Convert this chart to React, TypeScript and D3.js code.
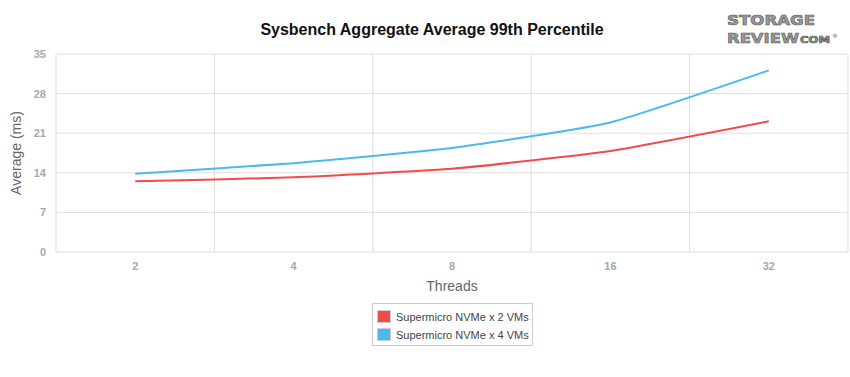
import React from "react";
import * as d3 from "d3";

const categories = ["2", "4", "8", "16", "32"];
const series2VMs = [12.5, 13.2, 14.7, 17.85, 23.1];
const series4VMs = [13.85, 15.7, 18.4, 22.9, 32.1];
const yTicks = [0, 7, 14, 21, 28, 35];
const seriesNames = ["Supermicro NVMe x 2 VMs", "Supermicro NVMe x 4 VMs"];
const seriesColors = ["#F04B4B", "#4CB9EC"];

const W = 850, H = 377;
const M = { left: 56, right: 848, top: 54, bottom: 252 };

export default function App() {
  const x = d3.scaleBand<string>().domain(categories).range([M.left, M.right]);
  const y = d3.scaleLinear().domain([0, 35]).range([M.bottom, M.top]);
  const line = d3
    .line<number>()
    .x((_, i) => (x(categories[i]) as number) + x.bandwidth() / 2)
    .y((d) => y(d))
    .curve(d3.curveCardinal.tension(0.55));
  const all = [series2VMs, series4VMs];
  const font = "'Liberation Sans', Arial, Helvetica, sans-serif";
  const gridX = [...categories.map((c) => x(c) as number), M.right];
  return (
    <svg width={W} height={H} style={{ position: "absolute", left: 0, top: 0, background: "#fff" }} fontFamily={font}>
      <text x={432} y={35} textAnchor="middle" fontSize={16} fontWeight="bold" fill="#111">
        Sysbench Aggregate Average 99th Percentile
      </text>
      {/* logo */}
      <g fontFamily="'DejaVu Sans', sans-serif" fontWeight="bold" fill="#9a9a9a" stroke="#555" strokeWidth={0.6}>
        <text x={727} y={25} fontSize={14} textLength={88} lengthAdjust="spacingAndGlyphs">STORAGE</text>
        <text x={727} y={43} fontSize={14} textLength={72} lengthAdjust="spacingAndGlyphs">REVIEW</text>
        <text x={800} y={43} fontSize={8} textLength={30} lengthAdjust="spacingAndGlyphs">COM</text>
        <text x={832} y={38} fontSize={6} strokeWidth={0}>®</text>
      </g>
      {/* grid */}
      {yTicks.map((t) => (
        <line key={"gy" + t} x1={M.left} x2={M.right} y1={y(t)} y2={y(t)} stroke="#ddd" strokeWidth={1} />
      ))}
      {gridX.map((gx, i) => (
        <line key={"gx" + i} x1={gx} x2={gx} y1={M.top} y2={M.bottom} stroke="#ddd" strokeWidth={1} />
      ))}
      {yTicks.map((t) => (
        <text key={"ty" + t} x={46} y={y(t) + 4} textAnchor="end" fontSize={11} fontWeight="bold" fill="#a8a8a8">
          {t}
        </text>
      ))}
      {categories.map((c) => (
        <text key={"tx" + c} x={(x(c) as number) + x.bandwidth() / 2} y={270} textAnchor="middle" fontSize={11} fontWeight="bold" fill="#a8a8a8">
          {c}
        </text>
      ))}
      <text transform={`translate(21,153) rotate(-90)`} textAnchor="middle" fontSize={14} fill="#666">
        Average (ms)
      </text>
      <text x={452} y={291} textAnchor="middle" fontSize={14} fill="#666">
        Threads
      </text>
      {all.map((s, i) => (
        <path key={"l" + i} d={line(s) || ""} fill="none" stroke={seriesColors[i]} strokeWidth={2} />
      ))}
      {/* legend */}
      <rect x={372.5} y={303.5} width={160} height={42} fill="#fff" stroke="#ccc" />
      {seriesNames.map((n, i) => (
        <g key={"lg" + i}>
          <rect x={377.5} y={310.5 + i * 18} width={13} height={12} fill={seriesColors[i]} stroke="#ccc" />
          <text x={396} y={321 + i * 18} fontSize={11} fill="#444">
            {n}
          </text>
        </g>
      ))}
    </svg>
  );
}
